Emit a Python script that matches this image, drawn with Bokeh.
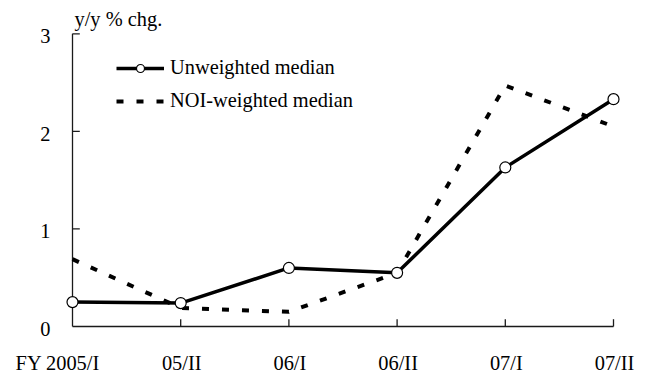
from bokeh.plotting import figure
from bokeh.models import Range1d, Legend, LegendItem
from bokeh.core.properties import value
from bokeh.embed import file_html
from bokeh.resources import INLINE

# ---- data ----
periods = [0, 1, 2, 3, 4, 5]
period_labels = ["FY 2005/I", "05/II", "06/I", "06/II", "07/I", "07/II"]
unweighted = [0.25, 0.24, 0.60, 0.55, 1.63, 2.33]
noi_weighted = [0.69, 0.19, 0.15, 0.55, 2.47, 2.05]
y_ticks = [0, 1, 2, 3]
y_tick_labels = ["0", "1", "2", "3"]
unit_label = "y/y % chg."

FONT = value("Liberation Serif")
FS = value("20.4px")

W, H = 649, 374
# layout: x=0 at px 72, x=5 at px 613 ; y=0 at px 326, y=3 at px 33.3
PX_X = (613 - 72) / 5.0
PX_Y = (326 - 33.3) / 3.0
x_range = Range1d(-72 / PX_X, 5 + (W - 613) / PX_X)
y_range = Range1d(-(H - 326) / PX_Y, 3 + 33.3 / PX_Y)

p = figure(width=W, height=H, output_backend="svg", toolbar_location=None,
           x_range=x_range, y_range=y_range, x_axis_type=None, y_axis_type=None,
           min_border=0, min_border_left=0, min_border_right=0,
           min_border_top=0, min_border_bottom=0)
p.outline_line_color = None
p.background_fill_color = "white"
p.border_fill_color = "white"

AX_COL = "#1a1a1a"
TICK = 7.3
x0, x1 = periods[0], periods[-1]
y0, y1 = y_ticks[0], y_ticks[-1]

# axis lines
p.segment(x0=[x0, x0], y0=[y0, y0], x1=[x1, x0], y1=[y0, y1],
          line_color=AX_COL, line_width=1.3)
# x ticks (pointing up, inside)
p.segment(x0=periods[1:], y0=[y0] * (len(periods) - 1), x1=periods[1:],
          y1=[y0 + TICK / PX_Y] * (len(periods) - 1), line_color=AX_COL, line_width=1.3)
# y ticks (pointing right, inside)
p.segment(x0=[x0] * (len(y_ticks) - 1), y0=y_ticks[1:],
          x1=[x0 + TICK / PX_X] * (len(y_ticks) - 1), y1=y_ticks[1:],
          line_color=AX_COL, line_width=1.3)

# y tick labels
p.text(x=[x0] * len(y_ticks), y=y_ticks, text=y_tick_labels, x_offset=-22, y_offset=2.5,
       text_align="right", text_baseline="alphabetic",
       text_font=FONT, text_font_size=FS, text_color="black")
# x tick labels
p.text(x=periods[1:], y=[y0] * (len(periods) - 1), text=period_labels[1:],
       x_offset=1, y_offset=36, text_align="center", text_baseline="alphabetic",
       text_font=FONT, text_font_size=FS, text_color="black")
p.text(x=[periods[0]], y=[y0], text=[period_labels[0]], x_offset=27.5, y_offset=36,
       text_align="right", text_baseline="alphabetic",
       text_font=FONT, text_font_size=FS, text_color="black")
# unit label
p.text(x=[x0], y=[y1], text=[unit_label], x_offset=2, y_offset=-15,
       text_align="left", text_baseline="alphabetic",
       text_font=FONT, text_font_size=FS, text_color="black")

# series
l2 = p.line(periods, noi_weighted, line_color="black", line_width=4, line_dash="7 13")
l1 = p.line(periods, unweighted, line_color="black", line_width=3.5)
s1 = p.scatter(periods, unweighted, marker="circle", size=11, fill_color="white",
               line_color="black", line_width=1.2)

legend = Legend(items=[LegendItem(label="Unweighted median", renderers=[l1, s1]),
                       LegendItem(label="NOI-weighted median", renderers=[l2])],
                location=(116, 262), padding=0, margin=0, spacing=10,
                glyph_width=48, glyph_height=20, label_height=20, label_standoff=6,
                border_line_color=None, background_fill_alpha=0,
                label_text_font="Liberation Serif", label_text_font_size="20.4px",
                label_text_color="black")
p.add_layout(legend)

open("out.html", "w").write(file_html(p, INLINE))
